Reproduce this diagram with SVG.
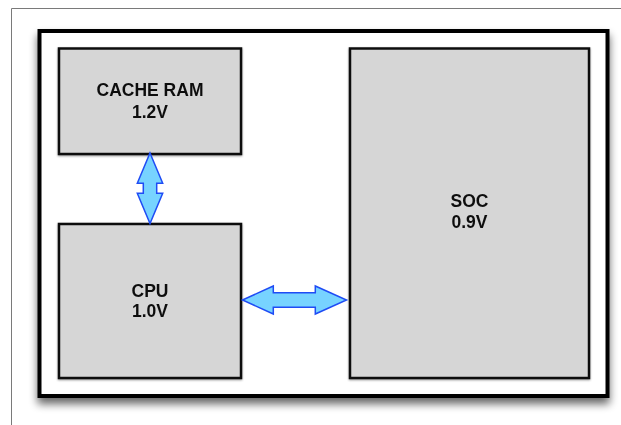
<svg xmlns="http://www.w3.org/2000/svg" width="621" height="425" viewBox="0 0 621 425">
<style>
.frame{fill:none;stroke:#7a7a7a;stroke-width:1}
.outer{fill:#ffffff;stroke:#000000;stroke-width:4}
.box{fill:#d6d6d6;stroke:#111111;stroke-width:2.5}
.arrow{fill:#77d3ff;stroke:#1f4cf5;stroke-width:1.5;stroke-linejoin:miter}
.lbl{font-family:"Liberation Sans",Arial,sans-serif;font-weight:bold;font-size:17.5px;fill:#111111;text-anchor:middle}
</style>
<defs>
<filter id="shadow" x="-10%" y="-10%" width="120%" height="125%">
<feGaussianBlur in="SourceAlpha" stdDeviation="4"/>
<feOffset dx="0" dy="6" result="b"/>
<feComponentTransfer><feFuncA type="linear" slope="0.6"/></feComponentTransfer>
<feMerge><feMergeNode/><feMergeNode in="SourceGraphic"/></feMerge>
</filter>
<filter id="sshadow" x="-5%" y="-5%" width="110%" height="115%">
<feGaussianBlur in="SourceAlpha" stdDeviation="1"/>
<feOffset dx="0" dy="1" result="b"/>
<feComponentTransfer><feFuncA type="linear" slope="0.4"/></feComponentTransfer>
<feMerge><feMergeNode/><feMergeNode in="SourceGraphic"/></feMerge>
</filter>
</defs>
<rect x="0" y="0" width="621" height="425" fill="#ffffff"/>
<path class="frame" d="M11.5,425 V8.5 H621"/>
<g id="board">
<rect class="outer" x="39.5" y="31" width="568" height="365" filter="url(#shadow)"/>
</g>
<g id="cache-ram" filter="url(#sshadow)">
<rect class="box" x="59" y="48.5" width="182" height="105.5"/>
<text class="lbl" x="150" y="96">CACHE RAM</text>
<text class="lbl" x="150" y="117.5">1.2V</text>
</g>
<g id="cpu" filter="url(#sshadow)">
<rect class="box" x="59" y="224" width="182" height="154"/>
<text class="lbl" x="150" y="296.5">CPU</text>
<text class="lbl" x="150" y="316.5">1.0V</text>
</g>
<g id="soc" filter="url(#sshadow)">
<rect class="box" x="350" y="48.5" width="239" height="329.5"/>
<text class="lbl" x="469.5" y="207">SOC</text>
<text class="lbl" x="469.5" y="228">0.9V</text>
</g>
<g id="connectors">
<polygon class="arrow" points="150,153 162.7,183.3 156.7,183.3 156.7,193.3 162.7,193.3 150,223.5 137.3,193.3 143.3,193.3 143.3,183.3 137.3,183.3"/>
<polygon class="arrow" points="242.5,300 273.3,286 273.3,292.7 315.3,292.7 315.3,286 346.5,300 315.3,314 315.3,307.3 273.3,307.3 273.3,314"/>
</g>
</svg>
